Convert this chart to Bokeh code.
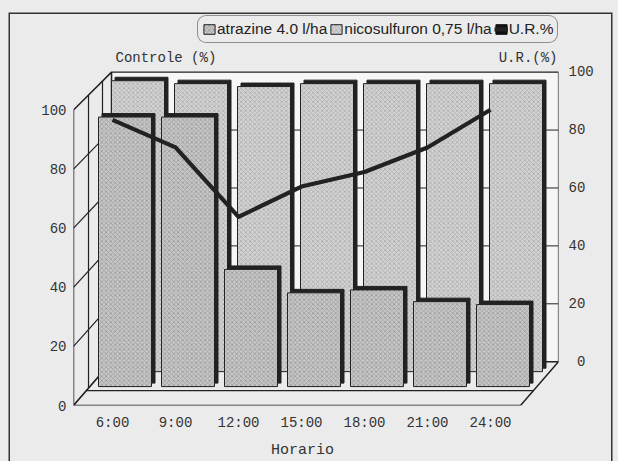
from bokeh.plotting import figure
from bokeh.models import (Range1d, LinearAxis, FixedTicker, Legend, LegendItem,
                          Label, ColumnDataSource)
from bokeh.embed import file_html
from bokeh.resources import INLINE

# ---------------- data ----------------
horarios = ["6:00", "9:00", "12:00", "15:00", "18:00", "21:00", "24:00"]
atrazine = [92, 92, 40, 32, 33, 29, 28]          # front row (Controle %)
nicosulfuron = [100, 99, 98, 99, 99, 99, 99]      # back row (Controle %)
ur = [83.5, 74, 50, 60.5, 65.5, 74, 87]           # U.R. %
left_ticks = [0, 20, 40, 60, 80, 100]
right_ticks = [0, 20, 40, 60, 80, 100]

# ---------------- geometry (pixels) ----------------
W, H = 618, 461
B_LEFT, B_RIGHT, B_BOTTOM = 73, 60, 54
FRAME_W, FRAME_H = W - B_LEFT - B_RIGHT, H - B_BOTTOM   # frame reaches the top
PX_X = 63.0            # px per category
X0 = 39.0              # frame left -> first category
PX_Y = 2.97            # px per unit on the front plane
PX_YB = 2.91           # px per unit on the back wall
DX, DY = 38.0, 44.0    # depth of the box
BOX_H = 335.0          # height of the box (front 0 -> back 100)
BG = "#ebebeb"
INK = "#222222"

def ux(px):  # px -> x data units
    return px / PX_X

def vy(px):  # px -> y data units
    return px / PX_Y

uL = -X0 / PX_X
uR = (FRAME_W - X0) / PX_X

p = figure(width=W, height=H,
           x_range=Range1d(uL, uR), y_range=Range1d(0, FRAME_H / PX_Y),
           output_backend="svg", toolbar_location=None,
           min_border_left=B_LEFT, min_border_right=B_RIGHT,
           min_border_top=0, min_border_bottom=B_BOTTOM,
           background_fill_color=BG, background_fill_alpha=0,
           border_fill_color=BG, border_fill_alpha=0,
           outline_line_color=None)
# page frame (left, top, right sides)
p.styles = {"background-color": BG,
            "box-shadow": (f"inset 0 12.5px 0 0 {BG}, inset 8.5px 0 0 0 {BG}, "
                           f"inset -5.5px 0 0 0 {BG}, "
                           "inset 0 14px 0 0 #333333, inset 10px 0 0 0 #333333, "
                           "inset -7px 0 0 0 #333333")}
p.extra_y_ranges = {"ur": Range1d(-DY / PX_YB, (FRAME_H - DY) / PX_YB)}
p.grid.visible = False

# ---------------- axes ----------------
MONO = "Liberation Mono"
TXT = "#333333"
p.xaxis.ticker = FixedTicker(ticks=list(range(len(horarios))))
p.xaxis.major_label_overrides = {i: h for i, h in enumerate(horarios)}
p.yaxis.ticker = FixedTicker(ticks=left_ticks)
for ax in (p.xaxis[0], p.yaxis[0]):
    ax.axis_line_color = None
    ax.major_tick_line_color = None
    ax.minor_tick_line_color = None
    ax.major_tick_out = 0
    ax.major_tick_in = 0
    ax.minor_tick_out = 0
    ax.minor_tick_in = 0
    ax.major_label_text_font = MONO
    ax.major_label_text_font_size = "14px"
    ax.major_label_text_color = TXT
p.xaxis.major_label_standoff = 9
p.yaxis.major_label_standoff = 7
p.xaxis.axis_label = "Horario\u00a0\u00a0\u00a0"
p.xaxis.axis_label_text_font = MONO
p.xaxis.axis_label_text_font_size = "15px"
p.xaxis.axis_label_text_font_style = "normal"
p.xaxis.axis_label_text_color = TXT
p.xaxis.axis_label_standoff = 8

rax = LinearAxis(y_range_name="ur", ticker=FixedTicker(ticks=right_ticks),
                 axis_line_color=None, major_tick_line_color=None,
                 minor_tick_line_color=None, major_tick_out=0, major_tick_in=0,
                 minor_tick_out=0, minor_tick_in=0,
                 major_label_overrides={0: "\u00a00"},
                 major_label_text_font=MONO, major_label_text_font_size="14px",
                 major_label_text_color=TXT, major_label_standoff=10)
p.add_layout(rax, "right")

# ---------------- 3D box ----------------
bxL = uL + ux(DX)
bottom_back = vy(DY)
top_back = vy(BOX_H)
# back wall
p.quad(left=[bxL], right=[uR], bottom=[bottom_back], top=[top_back],
       fill_color="#f6f6f6", line_color=INK, line_width=1.2)
g = [t for t in right_ticks if 0 < t < 100]
p.segment(x0=[bxL] * len(g), x1=[uR] * len(g), y0=g, y1=g,
          y_range_name="ur", line_color=INK, line_width=1)
# left wall
p.patch(x=[uL, uL, bxL, bxL],
        y=[0, 100, vy(100 * PX_Y + DX), bottom_back],
        fill_color=BG, line_color=INK, line_width=1.5)
lg = [t for t in left_ticks if 0 < t < 100]
p.segment(x0=[uL] * len(lg), x1=[bxL] * len(lg), y0=lg,
          y1=[vy(DY + PX_YB * t) for t in lg], line_color=INK, line_width=1.2)
for f in (0.395, 0.763):
    p.segment(x0=[uL + ux(DX * f)], x1=[uL + ux(DX * f)],
              y0=[vy(DY * f)], y1=[vy(100 * PX_Y + DX * f)],
              line_color=INK, line_width=1.2)
# floor
p.patch(x=[uL, uR - ux(DX), uR, bxL], y=[0, 0, bottom_back, bottom_back],
        fill_color=BG, line_color=INK, line_width=1.5)
f = 0.34
p.segment(x0=[uL + ux(DX * f)], x1=[uR - ux(DX) + ux(DX * f)],
          y0=[vy(DY * f)], y1=[vy(DY * f)], line_color=INK, line_width=1.2)

# ---------------- bars ----------------
def bar_source(vals, off_l, off_r, base_px, scale, sh):
    xs = list(range(len(vals)))
    left = [x + ux(off_l) for x in xs]
    right = [x + ux(off_r) for x in xs]
    bottom = [vy(base_px)] * len(vals)
    top = [vy(base_px + v * scale) for v in vals]
    face = ColumnDataSource(dict(left=left, right=right, bottom=bottom, top=top))
    shadow = ColumnDataSource(dict(left=[l + ux(sh) for l in left],
                                   right=[r + ux(sh) for r in right],
                                   bottom=[b + vy(sh) for b in bottom],
                                   top=[t + vy(sh) for t in top]))
    return face, shadow

HATCH = dict(hatch_pattern="diagonal_cross", hatch_scale=4.5,
             hatch_weight=0.6, hatch_alpha=0.8)

back_face, back_shadow = bar_source(nicosulfuron, -1, 52, 34, PX_Y - 0.06 * 0.77, 3.5)
p.quad(source=back_shadow, left="left", right="right", bottom="bottom", top="top",
       fill_color=INK, line_color=INK)
r_back = p.quad(source=back_face, left="left", right="right", bottom="bottom", top="top",
                fill_color="#d4d4d4", line_color=INK, line_width=1,
                hatch_color="#8c8c8c", **HATCH)

front_face, front_shadow = bar_source(atrazine, -14, 39, 19, PX_Y - 0.06 * 0.43, 3.5)
p.quad(source=front_shadow, left="left", right="right", bottom="bottom", top="top",
       fill_color=INK, line_color=INK)
r_front = p.quad(source=front_face, left="left", right="right", bottom="bottom", top="top",
                 fill_color="#c8c8c8", line_color=INK, line_width=1,
                 hatch_color="#777777", **HATCH)

# ---------------- U.R. line ----------------
ur_src = ColumnDataSource(dict(x=list(range(len(ur))), y=ur))
r_line = p.line("x", "y", source=ur_src, y_range_name="ur",
                line_color=INK, line_width=4.2, line_join="round")
# legend key for U.R. (solid square), kept outside the visible range
r_key = p.quad(left=[uL - 3], right=[uL - 2], bottom=[-10], top=[-5],
               fill_color="#111111", line_color="#111111")

# ---------------- legend ----------------
legend = Legend(items=[LegendItem(label="atrazine 4.0 l/ha", renderers=[r_front]),
                       LegendItem(label="nicosulfuron 0,75 l/ha", renderers=[r_back]),
                       LegendItem(label="U.R.%", renderers=[r_key, r_line])],
                orientation="horizontal", location=(197 - B_LEFT, FRAME_H - 45),
                glyph_width=14, glyph_height=12, label_standoff=1, spacing=2,
                padding=4, margin=0, label_height=14,
                label_text_font="Liberation Sans", label_text_font_size="15.5px",
                label_text_color="#222222",
                background_fill_color=BG, background_fill_alpha=1,
                border_line_color="#333333", border_line_width=1.5)
if "border_radius" in Legend.properties():
    legend.border_radius = 9
p.add_layout(legend, "center")

# ---------------- axis titles ----------------
TITLE_Y = vy(BOX_H + 14)
p.add_layout(Label(x=ux(115 - 112), y=TITLE_Y, text="Controle (%)",
                   text_font=MONO, text_font_size="14px", text_color=TXT,
                   text_baseline="middle", text_align="left"))
p.add_layout(Label(x=ux(557 - 112), y=TITLE_Y, text="U.R.(%)",
                   text_font=MONO, text_font_size="14px", text_color=TXT,
                   text_baseline="middle", text_align="right"))

open("out.html", "w").write(file_html(p, INLINE))
